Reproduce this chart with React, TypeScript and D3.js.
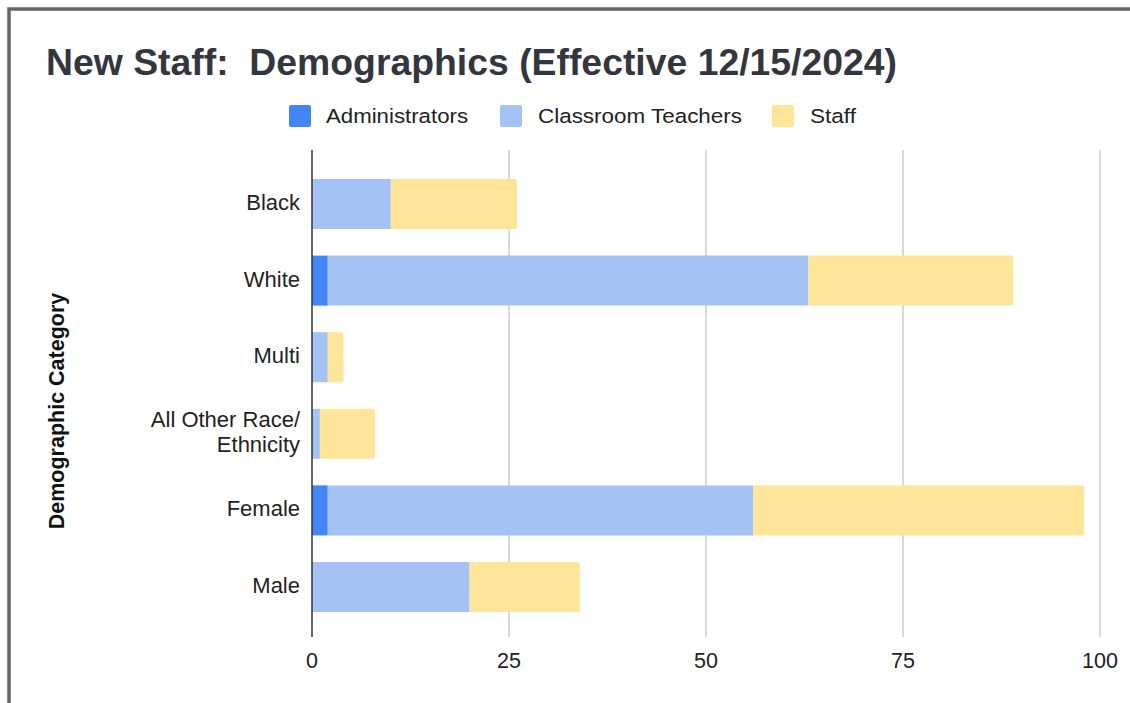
import React from "react";
import * as d3 from "d3";

const categories = ["Black", "White", "Multi", "All Other Race/\nEthnicity", "Female", "Male"];
const administrators = [0, 2, 0, 0, 2, 0];
const classroomTeachers = [10, 61, 2, 1, 54, 20];
const staff = [16, 26, 2, 7, 42, 14];
const seriesNames = ["Administrators", "Classroom Teachers", "Staff"];
const seriesColors = ["#4285f4", "#a4c2f4", "#ffe599"];
const xTicks = [0, 25, 50, 75, 100];

const W = 1130;
const H = 703;
const FONT = "Arial, 'Liberation Sans', sans-serif";

export default function App() {
  const x = d3.scaleLinear().domain([0, 100]).range([312, 1100]);
  const y = d3
    .scaleBand<string>()
    .domain(categories)
    .range([165.7, 165.7 + 76.6 * 6])
    .paddingInner(0.347)
    .paddingOuter(0.1735);

  const rows = categories.map((c, i) => ({
    cat: c,
    Administrators: administrators[i],
    "Classroom Teachers": classroomTeachers[i],
    Staff: staff[i],
  }));
  const stacked = d3.stack<any>().keys(seriesNames)(rows);

  const gridTop = 150;
  const gridBottom = 637;

  const lastIdx = rows.map((r) => {
    let li = -1;
    seriesNames.forEach((s, k) => {
      if ((r as any)[s] > 0) li = k;
    });
    return li;
  });

  const barPath = (x0: number, x1: number, y0: number, h: number, round: boolean) => {
    const r = round ? Math.min(2.5, (x1 - x0) / 2) : 0;
    const p = d3.path();
    p.moveTo(x0, y0);
    p.lineTo(x1 - r, y0);
    if (r > 0) p.quadraticCurveTo(x1, y0, x1, y0 + r);
    p.lineTo(x1, y0 + h - r);
    if (r > 0) p.quadraticCurveTo(x1, y0 + h, x1 - r, y0 + h);
    p.lineTo(x0, y0 + h);
    p.closePath();
    return p.toString();
  };

  const legendItems = [
    { sx: 289, tx: 326, tw: 142 },
    { sx: 500, tx: 538, tw: 204 },
    { sx: 772, tx: 810, tw: 46 },
  ];

  return (
    <svg
      width={W}
      height={H}
      style={{ position: "absolute", left: 0, top: 0, background: "#fff" }}
      fontFamily={FONT}
    >
      <rect x={0} y={0} width={W} height={H} fill="#fff" />
      <rect x={9} y={9} width={1300} height={900} fill="none" stroke="#666" strokeWidth={3.5} />

      <text
        x={46}
        y={75}
        fontSize={36}
        fontWeight="bold"
        fill="#33363f"
        textLength={851}
        lengthAdjust="spacingAndGlyphs"
        style={{ whiteSpace: "pre" }}
      >
        {"New Staff:  Demographics (Effective 12/15/2024)"}
      </text>

      {seriesNames.map((s, i) => (
        <g key={s}>
          <rect x={legendItems[i].sx} y={105} width={22} height={22} rx={2} fill={seriesColors[i]} />
          <text
            x={legendItems[i].tx}
            y={123}
            fontSize={20.5}
            fill="#222"
            textLength={legendItems[i].tw}
            lengthAdjust="spacingAndGlyphs"
          >
            {s}
          </text>
        </g>
      ))}

      {xTicks.filter((t) => t !== 0).map((t) => (
        <line key={t} x1={x(t)} x2={x(t)} y1={gridTop} y2={gridBottom} stroke="#cccccc" strokeWidth={1.5} />
      ))}

      {stacked.map((layer, k) =>
        layer.map((d, i) => {
          const v = d[1] - d[0];
          if (v <= 0) return null;
          return (
            <path
              key={k + "-" + i}
              d={barPath(x(d[0]), x(d[1]), y(categories[i])!, y.bandwidth(), k === lastIdx[i])}
              fill={seriesColors[k]}
            />
          );
        })
      )}

      <line x1={x(0)} x2={x(0)} y1={gridTop} y2={gridBottom} stroke="#333" strokeWidth={1.5} />

      {xTicks.map((t) => (
        <text key={t} x={x(t)} y={668} fontSize={21.5} fill="#222" textAnchor="middle">
          {t}
        </text>
      ))}

      {categories.map((c) => {
        const lines = c.split("\n");
        const cy = y(c)! + y.bandwidth() / 2;
        const lh = 25;
        return (
          <text key={c} x={300} fontSize={22} fill="#222" textAnchor="end">
            {lines.map((ln, j) => (
              <tspan key={j} x={300} y={cy + 6 + (j - (lines.length - 1) / 2) * lh}>
                {ln}
              </tspan>
            ))}
          </text>
        );
      })}

      <text
        transform={`translate(64, 411) rotate(-90)`}
        fontSize={21.5}
        fontWeight="bold"
        fill="#111"
        textAnchor="middle"
      >
        Demographic Category
      </text>
    </svg>
  );
}
